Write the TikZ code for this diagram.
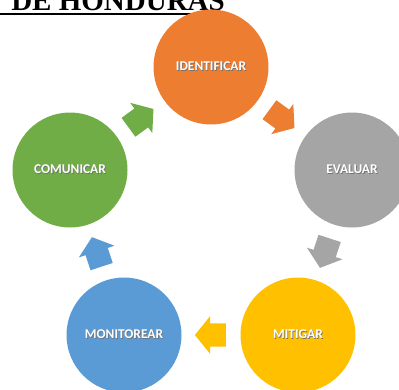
\documentclass[tikz,border=0pt]{standalone}
\usepackage{fontspec}
\newfontfamily\labelfont{Carlito}
\newfontfamily\titlefont{Liberation Serif}
\usetikzlibrary{shapes.arrows}
\definecolor{naranja}{HTML}{ED7D31}
\definecolor{gris}{HTML}{A5A5A5}
\definecolor{oro}{HTML}{FFC000}
\definecolor{azul}{HTML}{5B9BD5}
\definecolor{verde}{HTML}{70AD47}
\newcommand{\sombra}[1]{\makebox[0pt][l]{\hspace{0.8pt}\raisebox{-0.8pt}{\textcolor{black!55}{#1}}}\textcolor{white}{#1}}
\tikzset{
	etapa/.style={circle, minimum size=115pt, inner sep=0pt, font=\labelfont\bfseries\fontsize{13.4}{15}\selectfont},
	flecha/.style={single arrow, minimum height=31pt, inner xsep=0pt, inner ysep=11.5pt, single arrow head extend=7pt, single arrow tip angle=102, pos=0.43, sloped, allow upside down}
}
\begin{document}
\begin{tikzpicture}[x=1pt,y=-1pt]
	\useasboundingbox (0,0) rectangle (399,389);
	\clip (0,0) rectangle (399,389);
	% Titulo
		\node[anchor=base east, inner sep=0pt, font=\titlefont\bfseries\fontsize{29}{30}\selectfont] (titulo) at (225,10.5) {DE HONDURAS};
		\draw[line width=2pt] (0,14) -- (226,14);
	% Etapas
		\node[etapa, fill=naranja] (identificar) at (211,67) {\sombra{IDENTIFICAR}};
		\node[etapa, fill=gris] (evaluar) at (352,170) {\sombra{EVALUAR}};
		\node[etapa, fill=oro] (mitigar) at (298,335) {\sombra{MITIGAR}};
		\node[etapa, fill=azul] (monitorear) at (124,335) {\sombra{MONITOREAR}};
		\node[etapa, fill=verde] (comunicar) at (70,170) {\sombra{COMUNICAR}};
	% Flechas
		\path (identificar) -- node[flecha, fill=naranja] {} (evaluar);
		\path (evaluar) -- node[flecha, fill=gris] {} (mitigar);
		\path (mitigar) -- node[flecha, fill=oro] {} (monitorear);
		\path (monitorear) -- node[flecha, fill=azul] {} (comunicar);
		\path (comunicar) -- node[flecha, fill=verde] {} (identificar);
\end{tikzpicture}
\end{document}
